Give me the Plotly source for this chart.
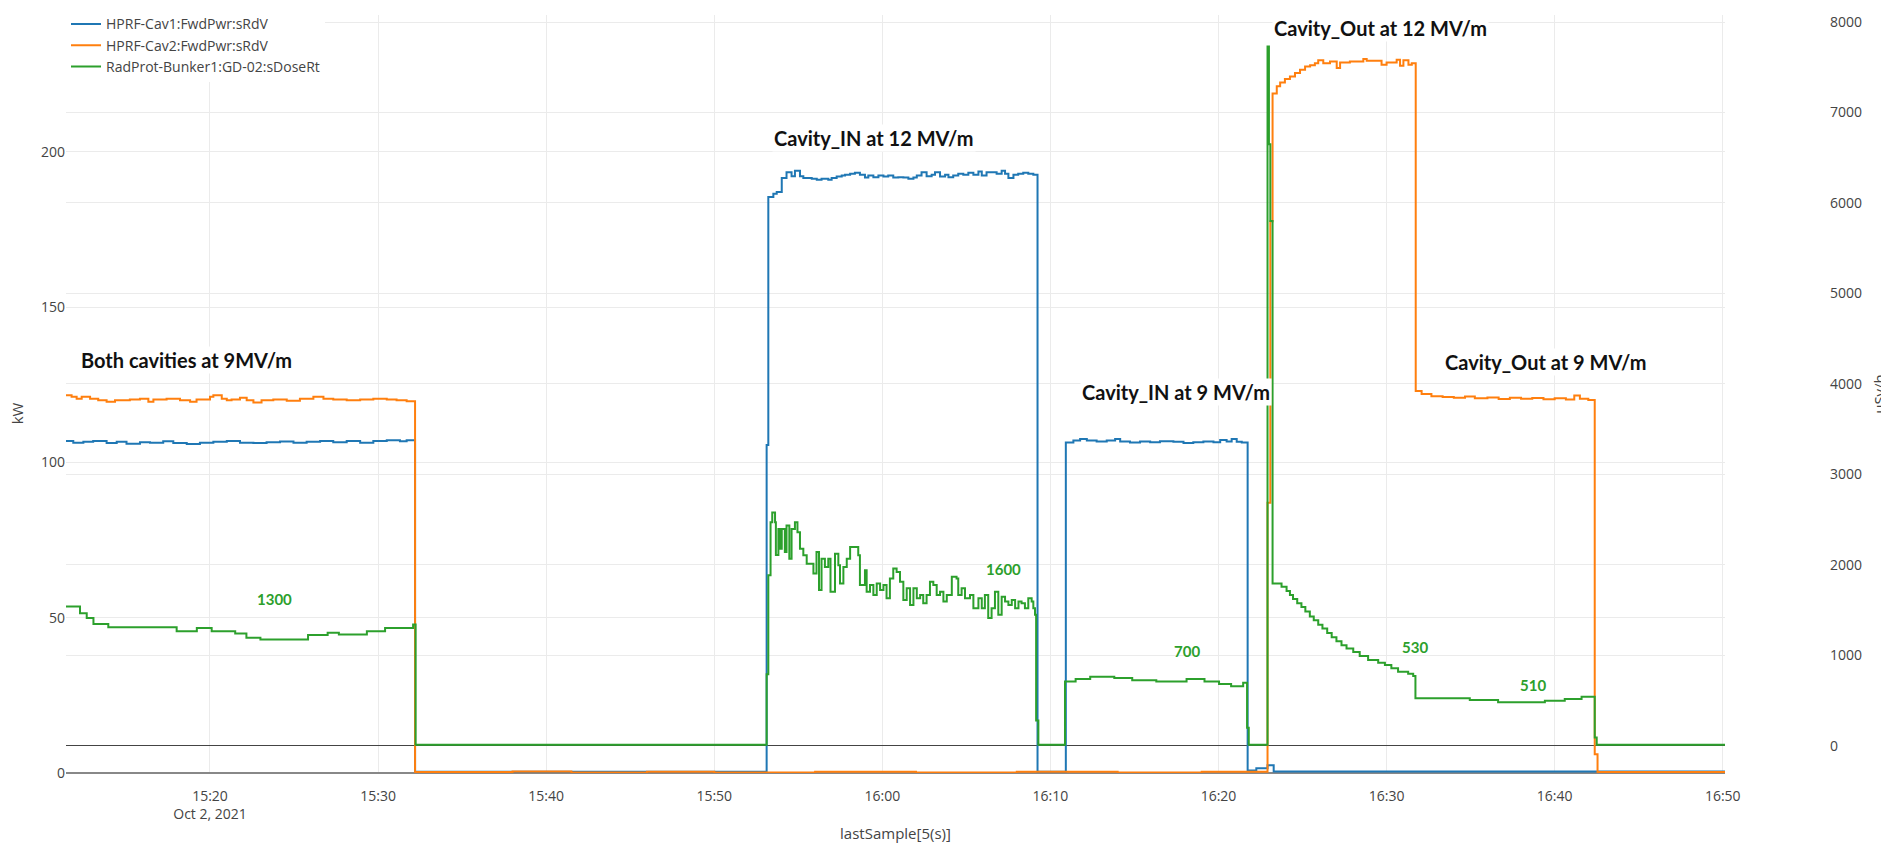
import plotly.graph_objects as go

DAY = "2021-10-02 "

# ---------------- data ----------------
cav1_time = ["15:11:26","15:11:52","15:12:28","15:13:03","15:13:51","15:14:27","15:15:02","15:15:50","15:16:26","15:17:13",
             "15:17:49","15:18:37","15:19:24","15:20:12","15:21:00","15:21:47","15:22:35","15:23:22","15:24:10","15:24:58",
             "15:25:45","15:26:33","15:27:20","15:28:08","15:28:56","15:29:43","15:30:31","15:31:18","15:31:42","15:32:12",
             "15:53:07","15:53:13","15:53:31","15:53:43","15:54:01","15:54:18","15:54:36","15:54:48","15:55:06","15:55:18",
             "15:55:48","15:56:06","15:56:23","15:56:47","15:56:59","15:57:17","15:57:35","15:57:47","15:58:05","15:58:22",
             "15:58:40","15:58:58","15:59:10","15:59:28","15:59:46","16:00:04","16:00:21","16:00:39","16:00:57","16:01:15",
             "16:01:33","16:01:51","16:02:03","16:02:20","16:02:38","16:02:56","16:03:08","16:03:26","16:03:44","16:03:56",
             "16:04:13","16:04:31","16:04:49","16:05:07","16:05:25","16:05:43","16:05:55","16:06:12","16:06:30","16:06:48",
             "16:07:06","16:07:18","16:07:30","16:07:48","16:08:05","16:08:23","16:08:41","16:08:59","16:09:14",
             "16:10:55","16:11:22","16:11:46","16:12:10","16:12:45","16:13:21","16:13:51","16:14:09","16:14:44","16:15:20",
             "16:15:56","16:16:31","16:17:19","16:17:55","16:18:30","16:19:06","16:19:42","16:20:06","16:20:29","16:20:47",
             "16:21:05","16:21:23","16:21:44","16:22:15","16:22:55","16:23:17","16:50:08"]
cav1_kw = [106.9,106.3,106.6,106.9,106.2,106.6,106.0,106.5,106.3,106.8,
           106.2,105.9,106.3,106.6,106.9,106.3,106.2,106.5,106.7,106.3,
           106.6,106.9,106.5,106.9,106.3,106.9,107.1,106.8,107.1,0.4,
           105.6,185.4,186.5,187.0,191.5,193.4,192.1,193.9,192.1,191.5,
           191.3,191.0,191.3,191.0,191.5,192.0,192.3,192.6,192.9,193.2,
           192.6,191.7,192.3,191.8,192.3,192.0,192.3,191.7,191.8,191.7,
           191.3,191.7,192.3,193.4,192.1,192.6,193.4,192.0,192.6,191.8,
           192.3,192.9,192.6,193.2,192.6,193.6,192.3,193.4,193.4,192.9,
           193.9,192.9,191.5,192.6,192.9,193.2,192.9,192.6,0.4,
           106.4,107.0,107.5,107.0,106.7,107.0,107.5,106.7,106.4,106.7,
           106.5,106.8,106.6,106.2,106.5,106.7,106.5,107.2,106.7,107.5,
           106.6,106.4,0.8,1.5,2.5,0.5,0.5]

cav2_time = ["15:11:26","15:11:46","15:12:04","15:12:22","15:12:52","15:13:21","15:13:51","15:14:21","15:15:14","15:15:50",
             "15:16:20","15:16:38","15:17:25","15:18:13","15:18:49","15:19:12","15:20:00","15:20:12","15:20:42","15:21:00",
             "15:21:17","15:21:47","15:22:11","15:22:35","15:23:04","15:23:46","15:24:34","15:25:21","15:26:09","15:26:45",
             "15:27:20","15:28:08","15:28:56","15:29:43","15:30:31","15:31:06","15:31:42","15:32:12",
             "15:38:00","15:41:30","15:46:00","15:50:00","15:56:00","16:02:00","16:08:00","16:14:00","16:19:00",
             "16:22:55","16:23:05","16:23:13","16:23:28","16:23:40","16:23:57","16:24:15","16:24:33","16:24:51","16:25:09",
             "16:25:27","16:25:44","16:25:56","16:26:14","16:26:38","16:27:02","16:27:14","16:27:49","16:28:37","16:28:49",
             "16:29:42","16:30:00","16:30:36","16:30:48","16:31:00","16:31:18","16:31:30",
             "16:31:44","16:32:05","16:32:40","16:33:20","16:34:00","16:34:40","16:35:15","16:36:00","16:36:40","16:37:20",
             "16:38:00","16:38:40","16:39:20","16:40:00","16:40:40","16:41:10","16:41:30","16:42:00","16:42:23","16:42:33",
             "16:50:08"]
cav2_kw = [121.6,121.1,120.5,121.1,120.5,120.0,119.5,120.0,120.2,120.5,
           119.5,120.2,120.5,120.0,119.5,120.2,121.1,121.6,120.5,120.0,
           120.2,120.8,120.0,119.3,120.0,120.2,119.8,120.5,121.1,120.5,
           120.2,120.0,120.2,120.5,120.2,120.0,119.7,0.3,
           0.5,0.2,0.4,0.2,0.4,0.2,0.4,0.2,0.4,
           87.0,177.6,218.7,221.1,222.3,223.4,224.2,225.3,226.4,227.4,
           227.8,228.5,229.4,228.5,229.0,226.9,228.7,229.0,229.8,229.3,
           228.0,228.7,229.6,227.7,229.4,228.0,228.5,
           123.0,122.0,121.3,121.0,120.8,121.2,120.6,120.9,120.4,120.8,
           120.5,120.7,120.3,120.6,120.2,121.5,120.5,120.1,6.0,0.3,
           0.3]

dose_time = ["15:11:26","15:12:16","15:12:40","15:13:04","15:13:57","15:18:01","15:19:13","15:20:06","15:21:30","15:22:10",
             "15:23:00","15:25:50","15:27:00","15:27:40","15:29:20","15:30:25","15:32:05","15:32:14",
             "15:53:07","15:53:13","15:53:21","15:53:27","15:53:37","15:53:40","15:53:49","15:53:55","15:54:01","15:54:12",
             "15:54:18","15:54:28","15:54:36","15:54:48","15:54:57","15:55:06","15:55:18","15:55:30","15:55:54","15:56:05",
             "15:56:14","15:56:23","15:56:35","15:56:47","15:56:55","15:57:11","15:57:23","15:57:29","15:57:41","15:57:53",
             "15:58:05","15:58:34","15:58:40","15:58:58","15:59:04","15:59:16","15:59:28","15:59:40","15:59:52","16:00:04",
             "16:00:15","16:00:27","16:00:39","16:00:51","16:01:03","16:01:15","16:01:27","16:01:39","16:01:51","16:02:03",
             "16:02:15","16:02:26","16:02:38","16:02:50","16:03:02","16:03:14","16:03:26","16:03:38","16:03:50","16:04:08",
             "16:04:25","16:04:31","16:04:43","16:04:55","16:05:13","16:05:25","16:05:43","16:05:55","16:06:06","16:06:18",
             "16:06:30","16:06:42","16:06:54","16:07:06","16:07:18","16:07:30","16:07:42","16:07:54","16:08:06","16:08:17",
             "16:08:29","16:08:41","16:08:53","16:08:59","16:09:05","16:09:09","16:09:17",
             "16:10:52","16:11:30","16:12:22","16:13:48","16:14:52","16:16:18","16:18:06","16:19:10","16:20:02","16:20:45",
             "16:21:28","16:21:42","16:21:48",
             "16:22:55","16:23:00","16:23:05","16:23:13","16:23:45","16:24:03","16:24:15","16:24:26","16:24:41","16:24:56",
             "16:25:10","16:25:26","16:25:40","16:25:56","16:26:11","16:26:28","16:26:44","16:27:01","16:27:19","16:27:37",
             "16:28:01","16:28:24","16:28:54","16:29:30","16:29:54","16:30:17","16:30:41","16:31:17","16:31:35","16:31:43",
             "16:34:57","16:36:38","16:39:25","16:40:36","16:41:36","16:42:23","16:42:30","16:50:08"]
dose_usvh = [1539,1466,1411,1345,1309,1265,1301,1265,1240,1195,
             1175,1225,1250,1230,1265,1301,1341,10,
             791,1886,2470,2579,2470,2108,2397,2178,2397,2141,
             2434,2068,2397,2470,2361,2178,2105,2013,1904,2141,
             1722,2068,1977,2068,1703,2123,1996,1794,1977,2068,
             2196,2105,1777,1941,1703,1777,1667,1794,1722,1777,
             1630,1849,1958,1922,1813,1612,1740,1557,1740,1630,
             1667,1575,1667,1813,1777,1667,1703,1594,1667,1867,
             1849,1667,1740,1630,1667,1520,1630,1520,1667,1411,
             1520,1703,1448,1648,1594,1557,1612,1520,1594,1575,
             1520,1630,1594,1520,1448,279,10,
             710,737,763,750,723,710,737,710,683,657,
             697,200,10,
             7730,6650,5800,1794,1758,1711,1667,1623,1575,1535,
             1484,1429,1386,1338,1295,1246,1199,1156,1112,1075,
             1035,991,947,918,893,856,819,797,772,524,
             506,480,498,517,542,90,10,10]

series_names = ["HPRF-Cav1:FwdPwr:sRdV", "HPRF-Cav2:FwdPwr:sRdV", "RadProt-Bunker1:GD-02:sDoseRt"]
series_colors = ["#1f77b4", "#ff7f0e", "#2ca02c"]

# phase labels: (text, time, kW)
phase_text = ["Both cavities at 9MV/m", "Cavity_IN at 12 MV/m", "Cavity_IN at 9 MV/m",
              "Cavity_Out at 12 MV/m", "Cavity_Out at 9 MV/m"]
phase_time = ["15:18:37", "15:59:32", "16:17:27", "16:29:40", "16:39:27"]
phase_kw = [132.8, 204.3, 122.8, 239.7, 132.4]

# dose labels: (text, time, uSv/h)
dose_lbl_text = ["1300", "1600", "700", "530", "510"]
dose_lbl_time = ["15:23:49", "16:07:12", "16:18:06", "16:31:41", "16:38:42"]
dose_lbl_val = [1626, 1958, 1046, 1090, 670]

x_range = ["15:11:26", "16:50:08"]
kw_range = [0, 244.0]
dose_range = [-301.2, 8077.8]

# ---------------- figure ----------------
def ts(lst):
    return [DAY + t for t in lst]

fig = go.Figure()
fig.add_trace(go.Scatter(x=ts(cav1_time), y=cav1_kw, name=series_names[0], mode="lines",
                         line=dict(color=series_colors[0], width=2, shape="hv"), yaxis="y"))
fig.add_trace(go.Scatter(x=ts(cav2_time), y=cav2_kw, name=series_names[1], mode="lines",
                         line=dict(color=series_colors[1], width=2, shape="hv"), yaxis="y"))
fig.add_trace(go.Scatter(x=ts(dose_time), y=dose_usvh, name=series_names[2], mode="lines",
                         line=dict(color=series_colors[2], width=2, shape="hv"), yaxis="y2"))

annotations = []
for txt, t, v in zip(phase_text, phase_time, phase_kw):
    annotations.append(dict(text="<b>" + txt + "</b>", x=DAY + t, y=v, xref="x", yref="y", showarrow=False,
                            font=dict(family="Lato", size=20, color="#111111"),
                            bgcolor="white"))
for txt, t, v in zip(dose_lbl_text, dose_lbl_time, dose_lbl_val):
    annotations.append(dict(text="<b>" + txt + "</b>", x=DAY + t, y=v, xref="x", yref="y2", showarrow=False,
                            font=dict(family="Lato", size=15, color="#2ca02c")))
# left axis title
annotations.append(dict(text="kW", x=-0.0278, y=0.4745, xref="paper", yref="paper", showarrow=False,
                        xanchor="center", yanchor="middle",
                        textangle=-90, font=dict(family="Open Sans", size=15, color="#444")))

grid = "#ebebeb"
tickfont = dict(family="Open Sans", size=14, color="#444")
fig.update_layout(
    width=1881, height=839,
    margin=dict(l=58, r=60, t=0, b=74),
    paper_bgcolor="white", plot_bgcolor="white",
    font=dict(family="Open Sans", size=14, color="#444"),
    showlegend=True,
    legend=dict(x=0, y=1.0087, xanchor="left", yanchor="top", bgcolor="white",
                font=dict(family="Open Sans", size=14, color="#444")),
    xaxis=dict(domain=[0, 0.94101], range=[DAY + x_range[0], DAY + x_range[1]], type="date",
               dtick=600000, tick0=DAY + "15:00:00", showgrid=True, gridcolor=grid,
               ticks="outside", ticklen=10, tickcolor="rgba(0,0,0,0)",
               tickfont=tickfont,
               title=dict(text="lastSample[5(s)]", font=dict(size=15, color="#444"), standoff=6),
               showline=False, zeroline=False),
    yaxis=dict(range=kw_range, dtick=50, showgrid=True, gridcolor=grid, zeroline=True,
               zerolinecolor="#888", zerolinewidth=1.5, tickfont=tickfont,
               ticklabeloverflow="allow"),
    yaxis2=dict(range=dose_range, dtick=1000, overlaying="y", side="right", anchor="free", position=1.0,
                showgrid=True, gridcolor=grid, zeroline=True, zerolinecolor="#444", zerolinewidth=1,
                tickfont=tickfont, ticklabeloverflow="allow",
                title=dict(text="uSv/h", font=dict(size=15, color="#444"))),
    annotations=annotations,
)

fig.write_html("out.html")
